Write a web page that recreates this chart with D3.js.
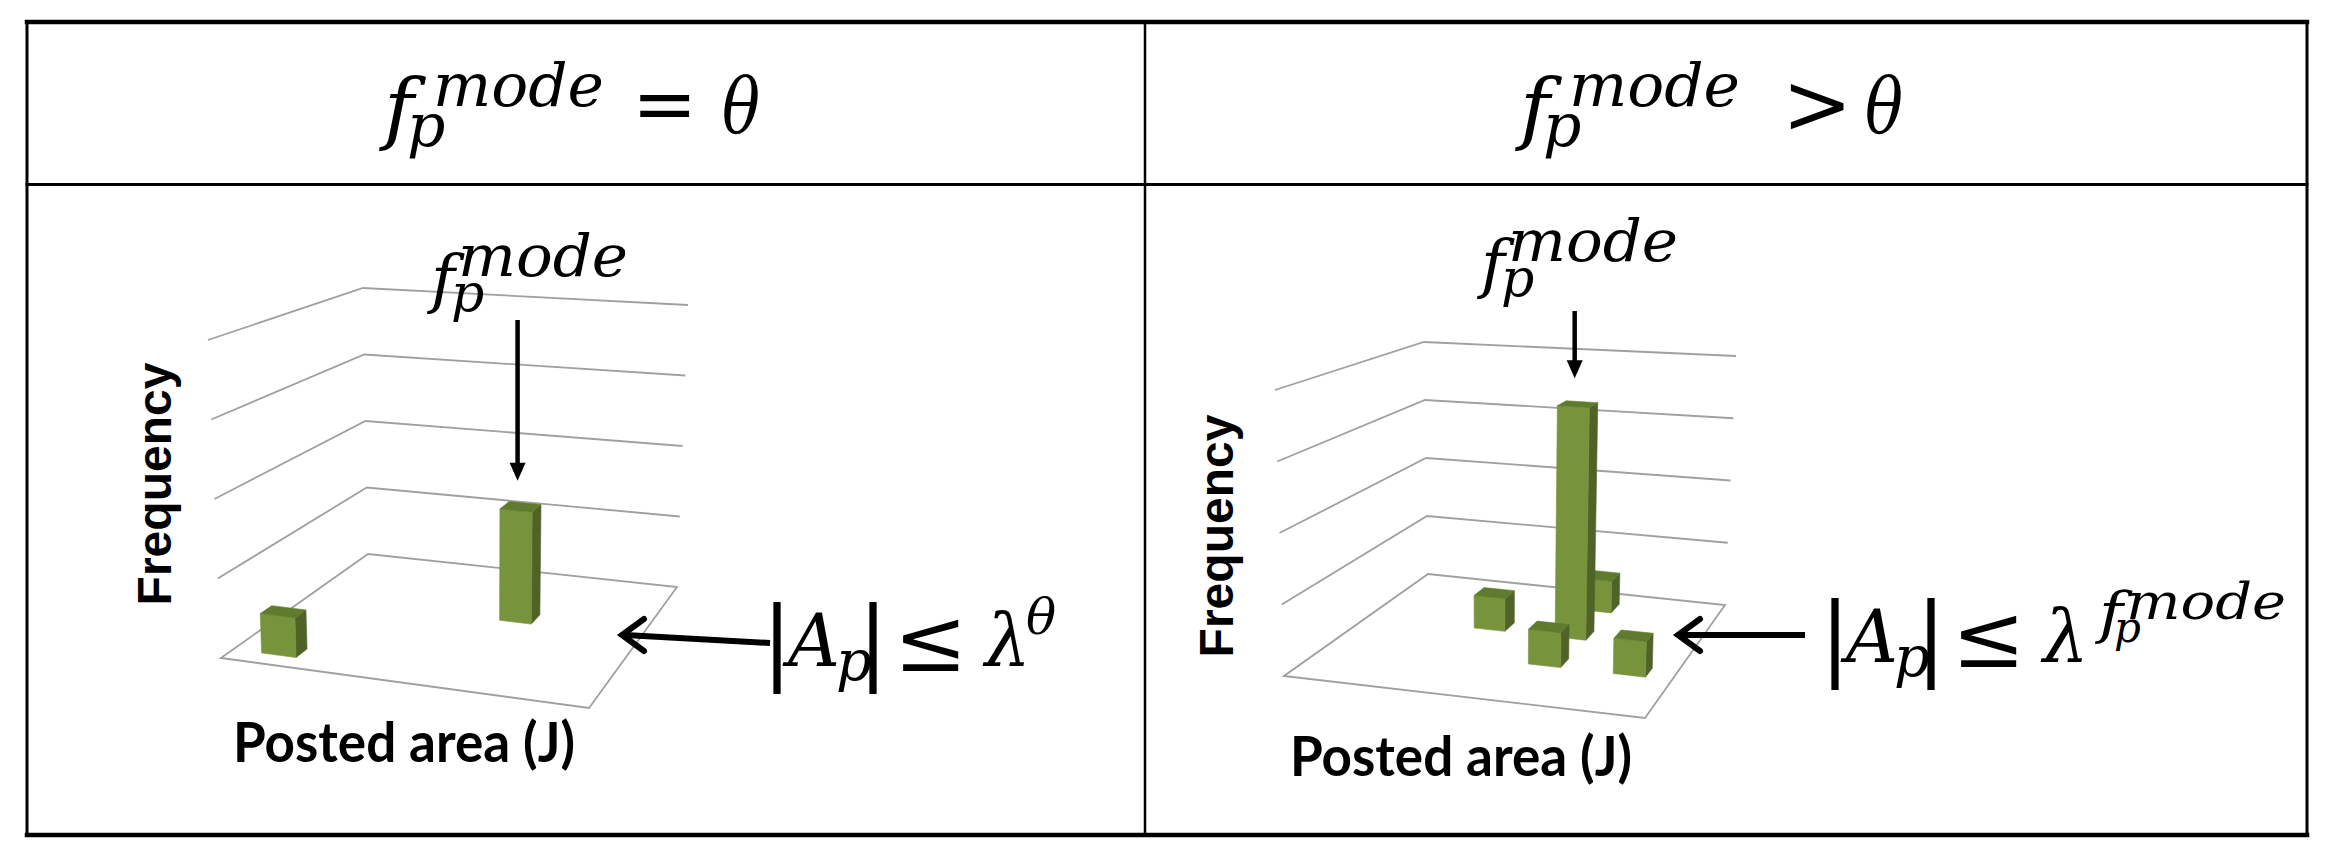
<!DOCTYPE html>
<html>
<head>
<meta charset="utf-8">
<script src="https://cdn.jsdelivr.net/npm/d3@7"></script>
<style>
  html, body { margin: 0; padding: 0; background: #fff; }
  svg { display: block; }
</style>
</head>
<body>
<div id="chart"></div>
<script>
// ---- data ----
const binLabels = ["J1", "J2", "J3", "J4"];   // posted-area bins
const depthRows = ["s1", "s2", "s3", "s4"];   // depth rows of the 3D grid
const freqTicks = [2, 4, 6, 8];               // frequency gridlines
const freqMax = 8;

// left panel: f_p^mode = theta
const eqBin  = ["J1", "J3"];
const eqRow  = ["s1", "s3"];
const eqFreq = [1, 3];

// right panel: f_p^mode > theta
const gtBin  = ["J3", "J2", "J3", "J3", "J4"];
const gtRow  = ["s4", "s3", "s3", "s2", "s2"];
const gtFreq = [1, 1, 7, 1, 1];

const headerOps = ["=", ">"];

const W = 2339, H = 868;
const MATH = "'DejaVu Serif', serif";
const tbl = {x0: 27, x1: 2307, xm: 1145, y0: 22, yh: 184.5, y1: 835};

const svg = d3.select("#chart").append("svg")
    .attr("width", W)
    .attr("height", H);

svg.append("rect").attr("width", W).attr("height", H).attr("fill", "#fff");

// small helper to set a formula out of pieces (sub/superscripts are just shifted pieces)
function drawMath(g, x0, y0, pieces) {
    g.selectAll(null)
        .data(pieces)
        .enter().append("text")
        .attr("x", d => x0 + d.dx)
        .attr("y", d => y0 + d.dy)
        .attr("font-family", MATH)
        .attr("font-size", d => d.size)
        .attr("font-style", d => d.it === false ? "normal" : "italic")
        .attr("text-anchor", d => d.anchor || "start")
        .attr("textLength", d => d.len || null)
        .attr("lengthAdjust", d => d.len ? "spacingAndGlyphs" : null)
        .attr("fill", "#000")
        .text(d => d.t);
}


class Hist3D {

    constructor(svg, cfg) {
        this.svg = svg;
        this.cfg = cfg;
        this.initVis();
    }

    initVis() {
        let vis = this;
        const c = vis.cfg;

        vis.g = vis.svg.append("g");

        // floor position (0..1 each way) and height (0..1) scales
        vis.x = d3.scaleBand().domain(binLabels).range([0, 1]).paddingInner(0.62).paddingOuter(0.31);
        vis.z = d3.scaleBand().domain(depthRows).range([0, 1]).paddingInner(0.68).paddingOuter(0.34);
        vis.y = d3.scaleLinear().domain([0, freqMax]).range([0, 1]);

        // trilinear map of the plot box onto the page
        vis.proj = (u, v, h) => {
            const bil = q => [0, 1].map(i =>
                (1 - u) * (1 - v) * q.fl[i] + u * (1 - v) * q.fr[i] +
                (1 - u) * v * q.bl[i] + u * v * q.br[i]);
            const a = bil(c.floor), b = bil(c.top);
            return [a[0] + (b[0] - a[0]) * h, a[1] + (b[1] - a[1]) * h];
        };

        vis.data = c.bins.map((b, i) => ({bin: b, row: c.rows[i], freq: c.freq[i]}));

        vis.updateVis();
    }

    updateVis() {
        let vis = this;
        const c = vis.cfg;
        const P = vis.proj;
        const line = d3.line();

        // walls: gridlines on the side wall and back wall
        vis.g.append("g")
            .selectAll("path")
            .data(freqTicks)
            .enter().append("path")
            .attr("d", t => line([P(0, 0, vis.y(t)), P(0, 1, vis.y(t)), P(1, 1, vis.y(t))]))
            .attr("fill", "none")
            .attr("stroke", "#a0a0a0")
            .attr("stroke-width", 1.8);

        // floor
        vis.g.append("path")
            .attr("d", line([P(0, 0, 0), P(1, 0, 0), P(1, 1, 0), P(0, 1, 0)]) + "Z")
            .attr("fill", "none")
            .attr("stroke", "#a0a0a0")
            .attr("stroke-width", 1.8);

        // bars, back rows first
        const bw = vis.x.bandwidth(), bd = vis.z.bandwidth();
        const ordered = vis.data.slice().sort((a, b) =>
            depthRows.indexOf(b.row) - depthRows.indexOf(a.row) ||
            binLabels.indexOf(a.bin) - binLabels.indexOf(b.bin));

        const bars = vis.g.append("g")
            .selectAll("g")
            .data(ordered)
            .enter().append("g");

        const faces = d => {
            const u0 = vis.x(d.bin), u1 = u0 + bw;
            const v0 = vis.z(d.row), v1 = v0 + bd;
            const h = vis.y(d.freq);
            return [
                {fill: "#4f6228", pts: [P(u1, v0, 0), P(u1, v1, 0), P(u1, v1, h), P(u1, v0, h)]},
                {fill: "#77933c", pts: [P(u0, v0, 0), P(u1, v0, 0), P(u1, v0, h), P(u0, v0, h)]},
                {fill: "#5f7b2e", pts: [P(u0, v0, h), P(u1, v0, h), P(u1, v1, h), P(u0, v1, h)]}
            ];
        };

        bars.selectAll("path")
            .data(faces)
            .enter().append("path")
            .attr("d", f => line(f.pts) + "Z")
            .attr("fill", f => f.fill)
            .attr("stroke", f => f.fill)
            .attr("stroke-width", 0.6)
            .attr("stroke-linejoin", "round");

        // axis titles
        vis.g.append("text")
            .attr("transform", "translate(" + c.freqLabel[0] + "," + c.freqLabel[1] + ") rotate(-90)")
            .attr("text-anchor", "middle")
            .attr("font-family", "'Liberation Sans', Arial, sans-serif")
            .attr("font-weight", "bold")
            .attr("font-size", 48)
            .text("Frequency");

        vis.g.append("text")
            .attr("x", c.areaLabel[0])
            .attr("y", c.areaLabel[1])
            .attr("font-family", "Lato, sans-serif")
            .attr("font-weight", "bold")
            .attr("font-size", 55)
            .attr("textLength", 342)
            .attr("lengthAdjust", "spacingAndGlyphs")
            .text("Posted area (J)");

        // f_p^mode label and arrow onto the highest bar
        drawMath(vis.g, c.modeLabel[0], c.modeLabel[1], [
            {t: "f", dx: 0, dy: 25, size: 64, len: 24},
            {t: "p", dx: 20, dy: 35, size: 52},
            {t: "mode", dx: 27, dy: 0, size: 58, len: 170}
        ]);

        const top = vis.data.reduce((a, b) => (b.freq > a.freq ? b : a));
        const tp = P(vis.x(top.bin) + bw / 2, vis.z(top.row) + bd / 2, vis.y(top.freq));
        const ax = tp[0] - 3, tipY = tp[1] - 26, tailY = c.modeLabel[1] + c.tailGap;
        vis.g.append("line")
            .attr("x1", ax).attr("x2", ax)
            .attr("y1", tailY).attr("y2", tipY - 14)
            .attr("stroke", "#000")
            .attr("stroke-width", 4.5);
        vis.g.append("path")
            .attr("d", line([[ax - 8, tipY - 18], [ax + 8, tipY - 18], [ax, tipY]]) + "Z")
            .attr("fill", "#000");

        // |A_p| bound with arrow onto the floor
        const [t0, t1] = c.boundArrow;
        vis.g.append("line")
            .attr("x1", t0[0]).attr("y1", t0[1])
            .attr("x2", t1[0] + 3).attr("y2", t1[1])
            .attr("stroke", "#000")
            .attr("stroke-width", 6);
        vis.g.append("path")
            .attr("d", line([[t1[0] + 22, t1[1] - 16], [t1[0], t1[1]], [t1[0] + 22, t1[1] + 16]]))
            .attr("fill", "none")
            .attr("stroke", "#000")
            .attr("stroke-width", 6)
            .attr("stroke-linecap", "round")
            .attr("stroke-linejoin", "miter");

        drawMath(vis.g, c.bound[0], c.bound[1], [
            {t: "|", dx: 3, dy: 6, size: 92, it: false, anchor: "middle"},
            {t: "A", dx: 14, dy: 0, size: 72},
            {t: "p", dx: 62, dy: 14, size: 56},
            {t: "|", dx: 99, dy: 6, size: 92, it: false, anchor: "middle"},
            {t: "≤", dx: 120, dy: 5, size: 88, it: false},
            {t: "λ", dx: 211, dy: 0, size: 72}
        ].concat(c.boundSup));
    }
}

// ---- table frame ----
const frame = [
    [tbl.x0, tbl.y0, tbl.x1, tbl.y0, 4.5],
    [tbl.x0, tbl.yh, tbl.x1, tbl.yh, 3],
    [tbl.x0, tbl.y1, tbl.x1, tbl.y1, 4.5],
    [tbl.x0, tbl.y0, tbl.x0, tbl.y1, 3],
    [tbl.x1, tbl.y0, tbl.x1, tbl.y1, 3],
    [tbl.xm, tbl.y0, tbl.xm, tbl.y1, 2.5]
];
svg.append("g")
    .selectAll("line")
    .data(frame)
    .enter().append("line")
    .attr("x1", d => d[0]).attr("y1", d => d[1])
    .attr("x2", d => d[2]).attr("y2", d => d[3])
    .attr("stroke", "#000")
    .attr("stroke-width", d => d[4])
    .attr("stroke-linecap", "square");

// ---- column headers ----
[382, 1518].forEach((x0, i) => {
    drawMath(svg, x0, 131, [
        {t: "f", dx: 2, dy: 4, size: 78, len: 30},
        {t: "p", dx: 25, dy: 15, size: 60},
        {t: "mode", dx: 51, dy: -25, size: 60, len: 171},
        {t: headerOps[i], dx: i === 0 ? 250 : 264, dy: i === 0 ? 0 : 2, size: i === 0 ? 78 : 84, it: false},
        {t: "θ", dx: i === 0 ? 340 : 347, dy: 1, size: 76, len: 38}
    ]);
});

// ---- panels ----
new Hist3D(svg, {
    bins: eqBin, rows: eqRow, freq: eqFreq,
    floor: {fl: [221, 658], fr: [589, 708], bl: [368, 554], br: [677, 587]},
    top:   {fl: [208, 340], fr: [592, 374], bl: [363, 288], br: [688, 305]},
    freqLabel: [171, 484],
    areaLabel: [233, 762],
    modeLabel: [431, 276],
    tailGap: 44,
    boundArrow: [[770, 643], [622, 635]],
    bound: [774, 666],
    boundSup: [{t: "θ", dx: 252, dy: -32, size: 50}]
});

new Hist3D(svg, {
    bins: gtBin, rows: gtRow, freq: gtFreq,
    floor: {fl: [1284, 676], fr: [1645, 718], bl: [1428, 574], br: [1725, 605]},
    top:   {fl: [1275, 390], fr: [1651, 415], bl: [1424, 342], br: [1736, 356]},
    freqLabel: [1233, 536],
    areaLabel: [1290, 776],
    modeLabel: [1481, 261],
    tailGap: 50,
    boundArrow: [[1805, 635], [1678, 635]],
    bound: [1832, 662],
    boundSup: [
        {t: "f", dx: 267, dy: -30, size: 56, len: 24},
        {t: "p", dx: 282, dy: -20, size: 42},
        {t: "mode", dx: 294, dy: -43, size: 50, len: 160}
    ]
});
</script>
</body>
</html>
